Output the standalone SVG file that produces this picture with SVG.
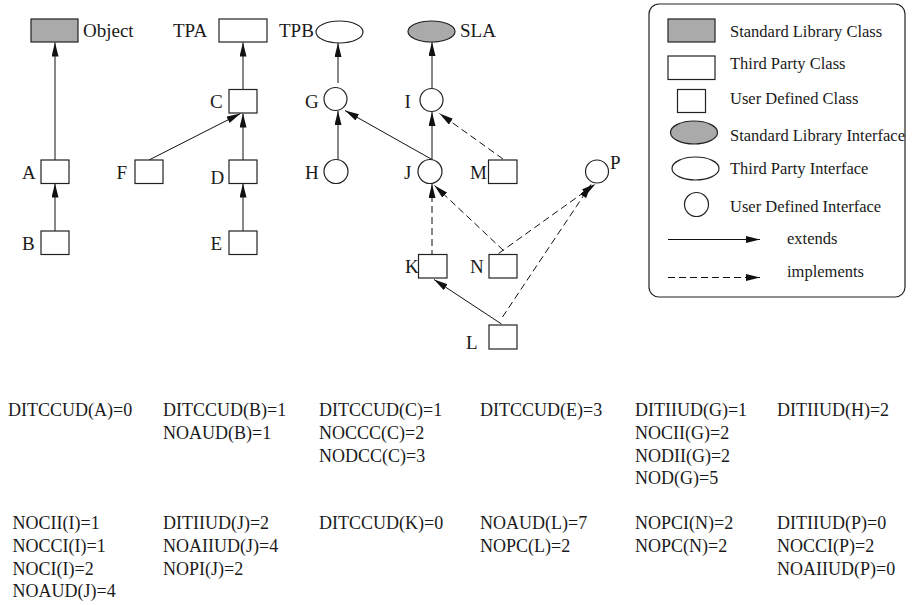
<svg xmlns="http://www.w3.org/2000/svg" width="912" height="605" viewBox="0 0 912 605">
  <defs>
    <style>
      text { font-family: "Liberation Serif", "Times New Roman", serif; fill: #1a1a1a; }
      .lbl { font-size: 19px; }
      .leg { font-size: 16.5px; }
      .met { font-size: 18px; }
      .box { fill: #fff; stroke: #222; stroke-width: 1.2; }
      .std { fill: #aaaaaa; stroke: #222; stroke-width: 1.2; }
      .ext { fill: none; stroke: #111; stroke-width: 1; marker-end: url(#head); }
      .imp { fill: none; stroke: #111; stroke-width: 1; stroke-dasharray: 7 4; marker-end: url(#head); }
    </style>
    <marker id="head" markerUnits="userSpaceOnUse" markerWidth="14" markerHeight="8" refX="14" refY="3.5" orient="auto">
      <path d="M0,0 L14,3.5 L0,7 z" fill="#111"/>
    </marker>
  </defs>

  <!-- connectors -->
  <g id="connectors">
    <line class="ext" x1="55" y1="160" x2="55" y2="42.5"/>
    <line class="ext" x1="55" y1="231" x2="55" y2="183.5"/>
    <line class="ext" x1="243" y1="97.5" x2="243" y2="42.5"/>
    <line class="ext" x1="149" y1="160" x2="240.5" y2="113.5"/>
    <line class="ext" x1="243" y1="160" x2="243" y2="113.5"/>
    <line class="ext" x1="243" y1="231" x2="243" y2="183.5"/>
    <line class="ext" x1="338" y1="83" x2="338" y2="43"/>
    <line class="ext" x1="338" y1="159.5" x2="338" y2="111"/>
    <line class="ext" x1="432" y1="88" x2="432" y2="42"/>
    <line class="ext" x1="432" y1="159.5" x2="432" y2="112"/>
    <line class="ext" x1="432" y1="159.5" x2="345" y2="110.5"/>
    <line class="imp" x1="503" y1="159" x2="439.5" y2="113.5"/>
    <line class="imp" x1="432" y1="257" x2="432" y2="184"/>
    <line class="imp" x1="503.5" y1="250.5" x2="434.5" y2="185.5"/>
    <line class="imp" x1="498.5" y1="253.5" x2="595.5" y2="184"/>
    <line class="ext" x1="501.5" y1="324" x2="434" y2="279.5"/>
    <line class="imp" x1="502.5" y1="317" x2="591" y2="184.5"/>
  </g>

  <!-- nodes -->
  <g id="Object"><rect class="std" x="31" y="19" width="47" height="23"/><text class="lbl" x="83" y="37">Object</text></g>
  <g id="TPA"><rect class="box" x="219" y="19" width="48" height="23"/><text class="lbl" x="173" y="37">TPA</text></g>
  <g id="TPB"><ellipse class="box" cx="339.5" cy="32" rx="23.5" ry="11"/><text class="lbl" x="279" y="37">TPB</text></g>
  <g id="SLA"><ellipse class="std" cx="431.5" cy="31.5" rx="23.5" ry="10.5"/><text class="lbl" x="460" y="37">SLA</text></g>

  <g id="A"><rect class="box" x="41" y="160" width="28" height="23.5"/><text class="lbl" x="22" y="178.5">A</text></g>
  <g id="B"><rect class="box" x="41" y="231" width="28" height="23.5"/><text class="lbl" x="22" y="250">B</text></g>
  <g id="C"><rect class="box" x="229" y="89.5" width="28" height="23.5"/><text class="lbl" x="210" y="107.5">C</text></g>
  <g id="F"><rect class="box" x="135" y="160" width="28" height="23.5"/><text class="lbl" x="116.5" y="178.5">F</text></g>
  <g id="D"><rect class="box" x="229" y="160" width="28" height="23.5"/><text class="lbl" x="210.5" y="184">D</text></g>
  <g id="E"><rect class="box" x="229" y="231" width="28" height="23.5"/><text class="lbl" x="210.5" y="250">E</text></g>

  <g id="G"><circle class="box" cx="335.5" cy="99" r="11.5"/><text class="lbl" x="305" y="107.5">G</text></g>
  <g id="H"><circle class="box" cx="336" cy="171.5" r="12"/><text class="lbl" x="305" y="178.5">H</text></g>
  <g id="I"><circle class="box" cx="431.5" cy="100" r="11.5"/><text class="lbl" x="404.5" y="107.5">I</text></g>
  <g id="J"><circle class="box" cx="430" cy="171.5" r="12"/><text class="lbl" x="404" y="178.5">J</text></g>
  <g id="M"><rect class="box" x="488.5" y="160" width="28.5" height="23.5"/><text class="lbl" x="470" y="178.5">M</text></g>
  <g id="P"><circle class="box" cx="597" cy="171.5" r="11.5"/><text class="lbl" x="610" y="168.5">P</text></g>
  <g id="K"><rect class="box" x="418.5" y="254.5" width="28.5" height="23.5"/><text class="lbl" x="405" y="273">K</text></g>
  <g id="N"><rect class="box" x="489" y="254.5" width="28" height="23.5"/><text class="lbl" x="470" y="273">N</text></g>
  <g id="L"><rect class="box" x="489" y="325" width="28" height="24"/><text class="lbl" x="466" y="348.5">L</text></g>

  <!-- legend -->
  <g id="legend">
    <rect x="649" y="4" width="256" height="293" rx="10" ry="10" fill="#fff" stroke="#222" stroke-width="1.2"/>
    <rect class="std" x="668" y="19" width="47" height="23"/>
    <text class="leg" x="730" y="36.5">Standard Library Class</text>
    <rect class="box" x="668" y="56" width="47" height="23.5"/>
    <text class="leg" x="730" y="69">Third Party Class</text>
    <rect class="box" x="677.5" y="89.5" width="28" height="23"/>
    <text class="leg" x="730" y="104">User Defined Class</text>
    <ellipse class="std" cx="694" cy="132.5" rx="23.5" ry="11.5"/>
    <text class="leg" x="730" y="140.5">Standard Library Interface</text>
    <ellipse class="box" cx="695.5" cy="168.5" rx="23.5" ry="11.5"/>
    <text class="leg" x="730" y="174">Third Party Interface</text>
    <circle class="box" cx="696.5" cy="204.5" r="12"/>
    <text class="leg" x="730" y="211.5">User Defined Interface</text>
    <line class="ext" x1="668" y1="239.5" x2="760" y2="239.5"/>
    <text class="leg" x="787" y="243.5">extends</text>
    <line class="imp" x1="668" y1="277.5" x2="760" y2="277.5"/>
    <text class="leg" x="787" y="276.5">implements</text>
  </g>

  <!-- metric values -->
  <g id="metrics" class="met">
    <text class="met" x="8" y="416">DITCCUD(A)=0</text>

    <text class="met" x="163" y="416">DITCCUD(B)=1</text>
    <text class="met" x="163" y="438.5">NOAUD(B)=1</text>

    <text class="met" x="319" y="416">DITCCUD(C)=1</text>
    <text class="met" x="319" y="438.5">NOCCC(C)=2</text>
    <text class="met" x="319" y="461.5">NODCC(C)=3</text>

    <text class="met" x="480" y="416">DITCCUD(E)=3</text>

    <text class="met" x="635" y="416">DITIIUD(G)=1</text>
    <text class="met" x="635" y="438.5">NOCII(G)=2</text>
    <text class="met" x="635" y="461.5">NODII(G)=2</text>
    <text class="met" x="635" y="484">NOD(G)=5</text>

    <text class="met" x="777" y="416">DITIIUD(H)=2</text>

    <text class="met" x="12.5" y="528.5">NOCII(I)=1</text>
    <text class="met" x="12.5" y="551.5">NOCCI(I)=1</text>
    <text class="met" x="12.5" y="574.5">NOCI(I)=2</text>
    <text class="met" x="12.5" y="597">NOAUD(J)=4</text>

    <text class="met" x="163" y="528.5">DITIIUD(J)=2</text>
    <text class="met" x="163" y="551.5">NOAIIUD(J)=4</text>
    <text class="met" x="163" y="574.5">NOPI(J)=2</text>

    <text class="met" x="319" y="528.5">DITCCUD(K)=0</text>

    <text class="met" x="480" y="528.5">NOAUD(L)=7</text>
    <text class="met" x="480" y="551.5">NOPC(L)=2</text>

    <text class="met" x="635" y="528.5">NOPCI(N)=2</text>
    <text class="met" x="635" y="551.5">NOPC(N)=2</text>

    <text class="met" x="777" y="528.5">DITIIUD(P)=0</text>
    <text class="met" x="777" y="551.5">NOCCI(P)=2</text>
    <text class="met" x="777" y="574.5">NOAIIUD(P)=0</text>
  </g>
</svg>
